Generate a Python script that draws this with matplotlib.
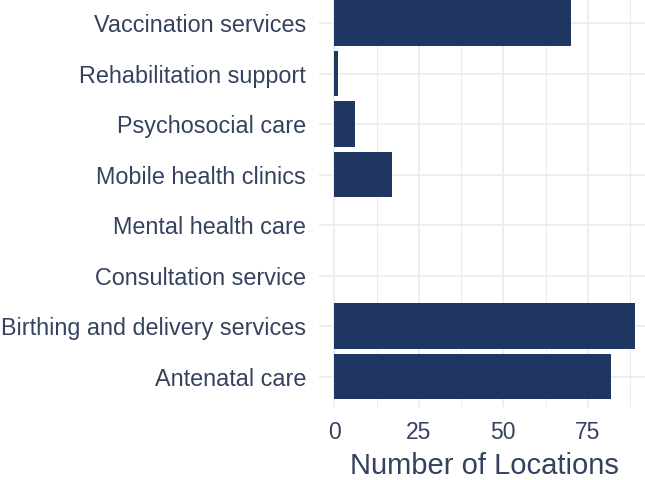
import matplotlib
matplotlib.use('Agg')
import matplotlib.pyplot as plt
from matplotlib.ticker import MultipleLocator

services = ['Antenatal care', 'Birthing and delivery services', 'Consultation service',
            'Mental health care', 'Mobile health clinics', 'Psychosocial care',
            'Rehabilitation support', 'Vaccination services']
locations = [82, 89, 0, 0, 17, 6, 1, 70]

bar_color = '#1f3562'
text_color = '#34425f'
grid_color = '#ebebeb'

plt.rcParams['font.family'] = ['Liberation Sans', 'DejaVu Sans']

fig = plt.figure(figsize=(6.45, 4.8), dpi=100)
ax = fig.add_axes([0.495, 0.152, 0.513, 0.863])

pos = list(range(1, len(services) + 1))
ax.barh(pos, locations, height=0.9, color=bar_color, zorder=3)

xmax = max(locations)
ax.set_xlim(-0.05 * xmax, 1.05 * xmax)
ax.set_ylim(0.4, len(services) + 0.6)

ax.xaxis.set_major_locator(MultipleLocator(25))
ax.xaxis.set_minor_locator(MultipleLocator(12.5))
ax.set_yticks(pos)
ax.set_yticklabels(services)

ax.grid(True, which='major', color=grid_color, linewidth=1.2, zorder=0)
ax.grid(True, which='minor', axis='x', color=grid_color, linewidth=0.7, zorder=0)

for s in ax.spines.values():
    s.set_visible(False)
ax.tick_params(which='both', length=0)
ax.tick_params(axis='y', labelsize=16.8, labelcolor=text_color, pad=9.5)
ax.tick_params(axis='x', labelsize=16.5, labelcolor=text_color, pad=10)

ax.set_xlabel('Number of Locations', fontsize=21, color=text_color, labelpad=6)

fig.savefig('out.png', dpi=100)
